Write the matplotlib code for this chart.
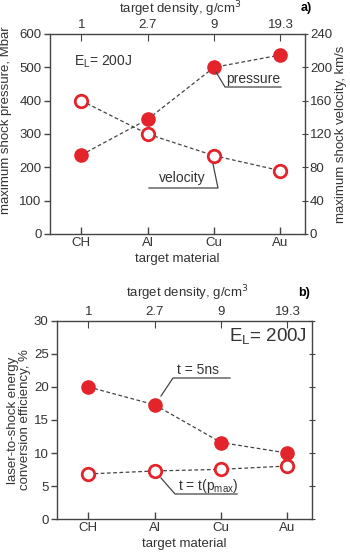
import numpy as np
import matplotlib.pyplot as plt

plt.rcParams['font.family'] = ['Liberation Sans', 'DejaVu Sans']
plt.rcParams['font.size'] = 9.5

materials = ['CH', 'Al', 'Cu', 'Au']
densities = ['1', '2.7', '9', '19.3']

# panel a
pressure = [237, 344, 500, 537]      # Mbar
velocity = [160, 120, 94, 76]        # km/s

# panel b
eff_5ns = [20.0, 17.3, 11.6, 10.0]   # %
eff_pmax = [6.85, 7.3, 7.55, 8.05]   # %

RED = '#e3242b'
GREY = '#444444'
TXT = '#333333'

W, H = 350, 556
fig = plt.figure(figsize=(W / 100, H / 100), dpi=100)

x = np.arange(len(materials))


def fx(px):
    return px / W


def fy(py):
    return 1 - py / H


def style(ax):
    for s in ax.spines.values():
        s.set_color(GREY)
        s.set_linewidth(1.0)
    ax.tick_params(colors=GREY, labelcolor=TXT, width=1.0, length=4, pad=2)
    ax.set_xlim(-0.47, 3.37)


def top_axis(ax, label_y):
    top = ax.twiny()
    top.set_xlim(ax.get_xlim())
    top.set_xticks(x)
    top.set_xticklabels(densities)
    top.tick_params(direction='in', colors=GREY, labelcolor=TXT, length=5, pad=2)
    for s in top.spines.values():
        s.set_visible(False)
    bb = ax.get_position()
    fig.text((bb.x0 + bb.x1) / 2 + fx(3), fy(label_y), 'target density, g/cm$^3$',
             color=TXT, ha='center', va='center')
    return top


def leader(pts):
    xs, ys = zip(*pts)
    fig.add_artist(plt.Line2D(xs, ys, color=GREY, lw=0.9, transform=fig.transFigure))


# ---------------- panel a ----------------
ax1 = fig.add_axes([fx(50), fy(234), fx(305) - fx(50), fy(34) - fy(234)])
style(ax1)
ax1.set_ylim(0, 600)
ax1.set_yticks(np.arange(0, 601, 100))
ax1.set_xticks(x)
ax1.set_xticklabels(materials)
ax1.tick_params(axis='x', direction='in', length=5)
ax1.tick_params(axis='y', direction='out')
ax1.set_xlabel('target material', color=TXT, labelpad=3)
ax1.set_ylabel('maximum shock pressure, Mbar', color=TXT)
ax1.yaxis.set_label_coords(-0.15, 0.57)
ax1.plot(x, pressure, ls='--', color=GREY, lw=0.9, dashes=(3, 2), zorder=2,
         marker='o', ms=9.5, mfc=RED, mec=RED)

ax1r = ax1.twinx()
ax1r.set_ylim(0, 240)
ax1r.set_yticks(np.arange(0, 241, 40))
ax1r.tick_params(direction='inout', colors=GREY, labelcolor=TXT, length=5, pad=1)
for s in ax1r.spines.values():
    s.set_visible(False)
ax1r.set_ylabel('maximum shock velocity, km/s', color=TXT, labelpad=2)
ax1r.plot(x, velocity, ls='--', color=GREY, lw=0.9, dashes=(3, 2), zorder=2,
          marker='o', ms=9, mfc='white', mec=RED, mew=2)
top_axis(ax1, 9)

fig.text(fx(74), fy(62), 'E$_\\mathregular{L}$= 200J', color=TXT, fontsize=10, va='center')
fig.text(fx(306), fy(8), 'a)', fontweight='bold', fontsize=9, va='center', ha='center')

fig.text(fx(253), fy(79), 'pressure', color=TXT, ha='center', va='center', fontsize=10)
leader([(fx(216), fy(72)), (fx(225), fy(87)), (fx(281), fy(87))])
fig.text(fx(182), fy(178), 'velocity', color=TXT, ha='center', va='center', fontsize=10)
leader([(fx(149), fy(188)), (fx(218), fy(188)), (fx(213), fy(164))])

# ---------------- panel b ----------------
ax2 = fig.add_axes([fx(57), fy(519.3), fx(312) - fx(57), fy(320.7) - fy(519.3)])
style(ax2)
ax2.set_ylim(0, 30)
ax2.set_yticks(np.arange(0, 31, 5))
ax2.set_xticks(x)
ax2.set_xticklabels(materials)
ax2.tick_params(axis='x', direction='in', length=5)
ax2.tick_params(axis='y', direction='out')
ax2.set_xlabel('target material', color=TXT, labelpad=3)
ax2.set_ylabel('laser-to-shock energy\nconversion efficiency, %', color=TXT,
               labelpad=2, linespacing=1.0)
ax2.plot(x, eff_5ns, ls='--', color=GREY, lw=0.9, dashes=(3, 2), zorder=2,
         marker='o', ms=9.5, mfc=RED, mec=RED)
ax2.plot(x, eff_pmax, ls='--', color=GREY, lw=0.9, dashes=(3, 2), zorder=2,
         marker='o', ms=9, mfc='white', mec=RED, mew=2)

ax2r = ax2.twinx()
ax2r.set_ylim(0, 30)
ax2r.set_yticks(np.arange(0, 31, 5))
ax2r.tick_params(direction='inout', colors=GREY, labelright=False, length=5)
for s in ax2r.spines.values():
    s.set_visible(False)
top_axis(ax2, 293)

fig.text(fx(307), fy(337), 'E$_\\mathregular{L}$= 200J', color=TXT, fontsize=13.5,
         va='center', ha='right')
fig.text(fx(304), fy(293), 'b)', fontweight='bold', fontsize=9, va='center', ha='center')

fig.text(fx(198), fy(370), 't = 5ns', color=TXT, ha='center', va='center', fontsize=10)
leader([(fx(161), fy(396)), (fx(173), fy(378)), (fx(230), fy(378))])
fig.text(fx(208), fy(486), 't = t(p$_\\mathregular{max}$)', color=TXT, ha='center',
         va='center', fontsize=10)
leader([(fx(161), fy(478)), (fx(175), fy(494)), (fx(237), fy(494))])

fig.savefig('out.png', dpi=100)
